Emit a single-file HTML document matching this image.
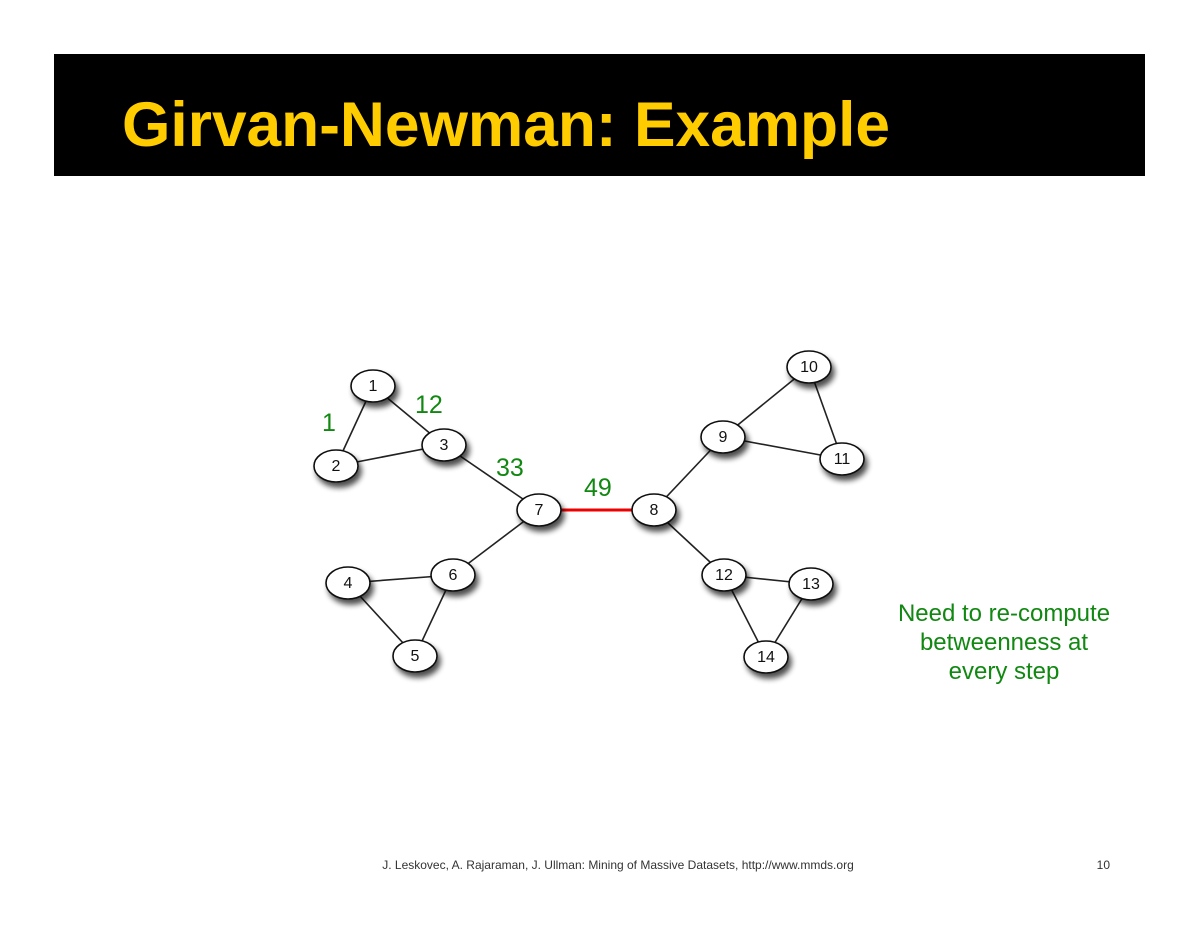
<!DOCTYPE html>
<html><head><meta charset="utf-8"><style>
html,body{margin:0;padding:0;background:#fff;}
svg{display:block;}
</style></head><body>
<svg width="1200" height="927" viewBox="0 0 1200 927" xmlns="http://www.w3.org/2000/svg">
<defs>
<filter id="sh" x="-50%" y="-50%" width="200%" height="200%">
<feGaussianBlur in="SourceAlpha" stdDeviation="3"/>
<feOffset dx="3" dy="5" result="b"/>
<feComponentTransfer><feFuncA type="linear" slope="0.7"/></feComponentTransfer>
<feMerge><feMergeNode/><feMergeNode in="SourceGraphic"/></feMerge>
</filter>
</defs>
<rect x="54" y="54" width="1091" height="122" fill="#000"/>
<text x="122" y="146" font-family="Liberation Sans, sans-serif" font-weight="bold" font-size="63" fill="#ffcc00" textLength="768" lengthAdjust="spacingAndGlyphs">Girvan-Newman: Example</text>
<g stroke="#222" stroke-width="1.6">
<line x1="373" y1="386" x2="336" y2="466"/>
<line x1="373" y1="386" x2="444" y2="445"/>
<line x1="336" y1="466" x2="444" y2="445"/>
<line x1="444" y1="445" x2="539" y2="510"/>
<line x1="539" y1="510" x2="453" y2="575"/>
<line x1="348" y1="583" x2="453" y2="575"/>
<line x1="348" y1="583" x2="415" y2="656"/>
<line x1="453" y1="575" x2="415" y2="656"/>
<line x1="654" y1="510" x2="723" y2="437"/>
<line x1="654" y1="510" x2="724" y2="575"/>
<line x1="723" y1="437" x2="809" y2="367"/>
<line x1="723" y1="437" x2="842" y2="459"/>
<line x1="809" y1="367" x2="842" y2="459"/>
<line x1="724" y1="575" x2="811" y2="584"/>
<line x1="724" y1="575" x2="766" y2="657"/>
<line x1="811" y1="584" x2="766" y2="657"/>
</g>
<line x1="561" y1="510" x2="632" y2="510" stroke="#e00" stroke-width="3"/>
<g font-family="Liberation Sans, sans-serif" font-size="16" text-anchor="middle">
<g fill="#fff" stroke="#111" stroke-width="1.6" filter="url(#sh)">
<ellipse cx="373" cy="386" rx="22" ry="16"/>
<ellipse cx="336" cy="466" rx="22" ry="16"/>
<ellipse cx="444" cy="445" rx="22" ry="16"/>
<ellipse cx="539" cy="510" rx="22" ry="16"/>
<ellipse cx="654" cy="510" rx="22" ry="16"/>
<ellipse cx="348" cy="583" rx="22" ry="16"/>
<ellipse cx="453" cy="575" rx="22" ry="16"/>
<ellipse cx="415" cy="656" rx="22" ry="16"/>
<ellipse cx="723" cy="437" rx="22" ry="16"/>
<ellipse cx="809" cy="367" rx="22" ry="16"/>
<ellipse cx="842" cy="459" rx="22" ry="16"/>
<ellipse cx="724" cy="575" rx="22" ry="16"/>
<ellipse cx="811" cy="584" rx="22" ry="16"/>
<ellipse cx="766" cy="657" rx="22" ry="16"/>
</g>
<g fill="#111">
<text x="373" y="391">1</text>
<text x="336" y="471">2</text>
<text x="444" y="450">3</text>
<text x="539" y="515">7</text>
<text x="654" y="515">8</text>
<text x="348" y="588">4</text>
<text x="453" y="580">6</text>
<text x="415" y="661">5</text>
<text x="723" y="442">9</text>
<text x="809" y="372">10</text>
<text x="842" y="464">11</text>
<text x="724" y="580">12</text>
<text x="811" y="589">13</text>
<text x="766" y="662">14</text>
</g>
</g>
<g font-family="Liberation Sans, sans-serif" font-size="25" fill="#118811">
<text x="322" y="431">1</text>
<text x="415" y="413">12</text>
<text x="496" y="476">33</text>
<text x="584" y="496">49</text>
</g>
<g font-family="Liberation Sans, sans-serif" font-size="24" fill="#118811" text-anchor="middle">
<text x="1004" y="621">Need to re-compute</text>
<text x="1004" y="650">betweenness at</text>
<text x="1004" y="679">every step</text>
</g>
<text x="618" y="869" font-family="Liberation Sans, sans-serif" font-size="12" fill="#333" text-anchor="middle">J. Leskovec, A. Rajaraman, J. Ullman: Mining of Massive Datasets, http://www.mmds.org</text>
<text x="1110" y="869" font-family="Liberation Sans, sans-serif" font-size="12" fill="#333" text-anchor="end">10</text>
</svg>
</body></html>
